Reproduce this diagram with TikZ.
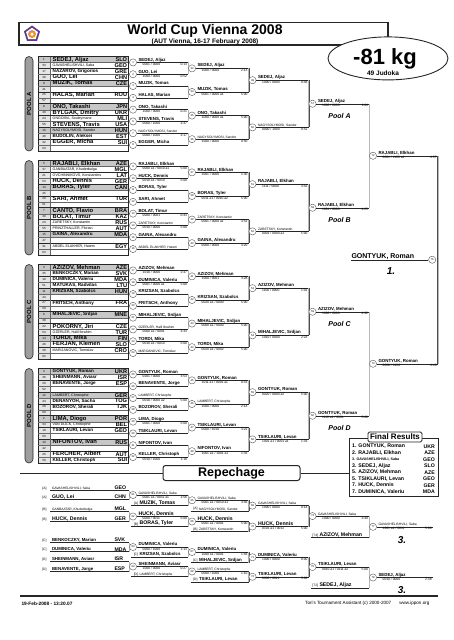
\documentclass[tikz,border=0pt]{standalone}
\usepackage{fontspec}
\setmainfont{Liberation Sans}
\usetikzlibrary{calc, shapes.geometric}

\def\titlebox{(19,22.7) rectangle (388,45)}
\def\resultsbox{(349,438.5) rectangle (438,496.5)}
\colorlet{line edge}{black!85}
\colorlet{link fill}{black!28}
\colorlet{seed row}{black!22}
\colorlet{seed cell}{black!10}
\colorlet{pool fill}{black!38}
\definecolor{logo violet}{RGB}{92,60,140}
\definecolor{logo orange}{RGB}{232,146,58}

\newcommand\fsz[1]{\fontsize{#1}{#1}\selectfont}
\newcommand\efb{\fsz{5.8}\bfseries}
\newcommand\efm{\fsz{4.6}\bfseries}
\newcommand\efs{\fsz{3.6}}
\newcommand\wfB{\fsz{5.2}\bfseries}
\newcommand\wfb{\fsz{4.4}\bfseries}
\newcommand\wfs{\fsz{3.3}}
\newcommand\rfb{\fsz{5.2}\bfseries}
\newcommand\rfs{\fsz{3.6}\bfseries}

\tikzset{
  fightnode/.style={circle, draw=black!65, fill=white, line width=0.4pt,
    minimum size=7.2pt, inner sep=0pt, font=\fsz{2.7}},
  pairbox/.style={draw=line edge, line width=0.7pt, minimum width=90pt,
    minimum height=11.8pt, inner sep=0pt},
  thinline/.style={draw=black!60, line width=0.3pt},
  winline/.style={draw=line edge, line width=0.45pt},
  vlink/.style={draw=black!70, line width=0.3pt, double=link fill, double distance=1pt},
  seednum/.style={inner sep=0pt, font=\fsz{3}},
  entry/.style={inner sep=0pt, anchor=west},
  country/.style={inner sep=0pt, anchor=east, font=\fsz{5.6}\bfseries},
  wname/.style={inner sep=0.3pt, anchor=south west},
  wscore/.style={inner sep=0.2pt, font=\fsz{3.3}},
  poolbar/.style={draw=line edge, fill=pool fill, rounded corners=4pt, rotate=90,
    minimum height=8pt, inner sep=0pt, line width=0.6pt, font=\fsz{6}\bfseries},
  poolname/.style={font=\fsz{7}\bfseries\itshape},
  tag/.style={inner sep=0.3pt, anchor=south east, font=\fsz{3.3}},
  rank/.style={font=\fsz{10}\bfseries\itshape}
}

% one pool: letter, y of first row, first fight, entries
\newcommand\poolblock[4]{%
  \foreach \k in {0,...,15}
    \fill[seed cell] (38,#2+5.9*\k-2.95) rectangle (50,#2+5.9*\k+2.95);
  \foreach \k in {0,4,8,12}
    \fill[seed row] (38,#2+5.9*\k-2.95) rectangle (128,#2+5.9*\k+2.95);
  \node[poolbar, minimum width=94.5pt] (bar#1) at (29,#2+44.25) {POOL #1};
  \foreach \k in {0,...,7} {
    \pgfmathtruncatemacro\fn{#3+\k}
    \node[pairbox] (box#1\k) at (83,#2+11.8*\k+2.95) {};
    \draw[thinline] (box#1\k.west) -- (box#1\k.east);
    \draw[thinline] (50,#2+11.8*\k-2.95) -- (50,#2+11.8*\k+8.85);
    \node[fightnode] (f\fn) at (133,#2+11.8*\k+2.95) {\fn};
    \draw[winline] (box#1\k) -- (f\fn);
  }
  \foreach \sd/\nm/\cc/\sz [count=\i from 0] in {#4} {
    \node[seednum] (s#1\i) at (44,#2+5.9*\i) {\sd};
    \node[entry, font=\csname ef\sz\endcsname] (n#1\i) at (52.5,#2+5.9*\i) {\nm};
    \node[country] (c#1\i) at (127.3,#2+5.9*\i) {\cc};
  }
}

% winner of a fight: fight, column, name, font, score, time
\newcommand\win[6]{%
  \coordinate (w#1) at (f#1 -| v#2);
  \draw[winline] (f#1) -- (w#1);
  \node[wname, font=\csname wf#4\endcsname] (n#1) at ([xshift=1.2pt]f#1.east) {#3};
  \node[wscore, anchor=north west] (s#1) at ([xshift=5.5pt,yshift=-0.4pt]f#1.east) {#5};
  \node[wscore, anchor=north east] (t#1) at ([xshift=-1pt,yshift=-0.4pt]w#1) {#6};
}

\newcommand\joinfightas[4]{%
  \draw[vlink] (w#3) -- (w#4);
  \node[fightnode] (f#1) at ($(w#3)!0.5!(w#4)+(3.6,0)$) {#2};
}
\newcommand\joinfight[3]{\joinfightas{#1}{#1}{#2}{#3}}

\newcommand\repentry[6]{%
  \coordinate (w#1) at (v0 |- 0,#2);
  \draw[winline] (50,#2) -- (w#1);
  \node[tag] (tg#1) at (47,#2) {[#3]};
  \node[wname, font=\csname wf#5\endcsname] (n#1) at (51.5,#2) {#4};
  \node[wname, font=\fsz{5.2}\bfseries] (c#1) at (114,#2) {#6};
}

\newcommand\latejoin[7]{%
  \coordinate (w#1) at (v#7 |- 0,#2);
  \draw[winline] (#6,#2) -- (w#1);
  \node[tag] (tg#1) at (#6+7.5,#2) {[#3]};
  \node[wname, font=\csname wf#5\endcsname] (n#1) at (#6+8,#2) {#4};
}

\begin{document}
\begin{tikzpicture}[x=1pt, y=-1pt]
  \useasboundingbox (0,0) rectangle (453,640);
  \fill[white] (0,0) rectangle (453,640);

  \draw[line width=1.1pt, draw=line edge] \titlebox;
  \node[font=\fsz{14}\bfseries] (title) at (205,31) {World Cup Vienna 2008};
  \node[font=\fsz{6.5}\bfseries] (subtitle) at (205,41.5) {(AUT Vienna, 16-17 February 2008)};
  \node[regular polygon, regular polygon sides=5, fill=logo violet, minimum size=17pt, inner sep=0pt] (logo) at (32,34) {};
  \node[regular polygon, regular polygon sides=5, fill=white, minimum size=12.5pt, inner sep=0pt] (logoin) at (logo) {};
  \node[circle, fill=logo orange, minimum size=8pt, inner sep=0pt] (logoring) at (logo) {};
  \node[circle, fill=white, minimum size=3.5pt, inner sep=0pt] (logodot) at (logo) {};
  \node[ellipse, draw=line edge, fill=white, line width=0.9pt, minimum width=120pt, minimum height=43pt] (weight) at (388,58.4) {};
  \node[anchor=base, font=\fsz{22}\bfseries] (wclass) at (385,64.8) {-81 kg};
  \node[anchor=base, font=\fsz{6.5}\bfseries] (judoka) at (383,75.4) {49 Judoka};

  \coordinate (v0) at (129.4,0);
  \coordinate (v1) at (188.4,0);
  \coordinate (v2) at (248.9,0);
  \coordinate (v3) at (308.9,0);
  \coordinate (v4) at (369.4,0);
  \coordinate (v5) at (438,0);
  \coordinate (v6) at (433,0);

  \poolblock{A}{59.5}{1}{1/{SEDEJ, Aljaz}/SLO/b, 33/{GAVASHELISHVILI, Saba}/GEO/s, 17/{NAZAROV, Grigorios}/GRE/m, 49/{GUO, Lei}/CHN/b, 9/{MUZIK, Tomas}/CZE/b, 41/{}/{}/b, 25/{HALAS, Marian}/ROU/b, 57/{}/{}/b, 8/{ONO, Takashi}/JPN/b, 40/{BYLGAK, Dmitry}/UKR/b, 24/{ONGOIBA, Souleymane}/MLI/s, 56/{STEVENS, Travis}/USA/b, 16/{NAGYSOLYMOSI, Sandor}/HUN/s, 48/{BUDOLIN, Aleksei}/EST/m, 32/{EGGER, Micha}/SUI/b, 64/{}/{}/b}
  \poolblock{B}{163.5}{9}{5/{RAJABLI, Elkhan}/AZE/b, 37/{GANBAATAR, Khuderbulga}/MGL/s, 21/{OVCHINNIKOVS, Konstantins}/LAT/s, 53/{HUCK, Dennis}/GER/b, 13/{BORAS, Tyler}/CAN/b, 45/{}/{}/b, 29/{SARI, Ahmet}/TUR/b, 61/{}/{}/b, 7/{CANTO, Flavio}/BRA/b, 39/{BOLAT, Timur}/KAZ/b, 23/{ZARETSKY, Konstantin}/RUS/s, 55/{PRINZTHALLER, Florian}/AUT/s, 15/{GAINA, Alexandru}/MDA/m, 47/{}/{}/b, 31/{ABDEL ELAKHER, Hatem}/EGY/s, 63/{}/{}/b}
  \poolblock{C}{267.5}{17}{3/{AZIZOV, Mehman}/AZE/b, 35/{BENKOCZKY, Marian}/SVK/m, 19/{DUMINICA, Valeriu}/MDA/m, 51/{MATUKAS, Radvilas}/LTU/m, 11/{KRIZSAN, Szabolcs}/HUN/m, 43/{}/{}/b, 27/{FRITSCH, Anthony}/FRA/m, 59/{}/{}/b, 6/{MIHALJEVIC, Srdjan}/MNE/m, 38/{}/{}/b, 22/{POKORNY, Jiri}/CZE/b, 54/{OZERLER, Halil Ibrahim}/TUR/s, 14/{TORDI, Mika}/FIN/b, 46/{FERJAN, Klemen}/SLO/b, 30/{MARIJANOVIC, Tomislav}/CRO/s, 62/{}/{}/b}
  \poolblock{D}{371.5}{25}{4/{GONTYUK, Roman}/UKR/m, 36/{SHEINMANN, Aviasr}/ISR/m, 20/{BENAVENTE, Jorge}/ESP/m, 52/{}/{}/b, 12/{LAMBERT, Christophe}/GER/s, 44/{DENANYOH, Sacha}/TOG/m, 28/{BOZOROV, Sherali}/TJK/m, 60/{}/{}/b, 2/{LIMA, Diogo}/POR/b, 34/{VAN DIJCK, Christophe}/BEL/s, 18/{TSIKLAURI, Levan}/GEO/m, 50/{}/{}/b, 10/{NIFONTOV, Ivan}/RUS/b, 42/{}/{}/b, 26/{FERCHER, Albert}/AUT/b, 58/{KELLER, Christoph}/SUI/m}

  \win{1}{1}{SEDEJ, Aljaz}{b}{0001 / 0000}{0:13}
  \win{2}{1}{GUO, Lei}{b}{1000 / 0000}{0:52}
  \win{3}{1}{MUZIK, Tomas}{b}{}{}
  \win{4}{1}{HALAS, Marian}{b}{}{}
  \win{5}{1}{ONO, Takashi}{b}{1000 / 0000}{0:21}
  \win{6}{1}{STEVENS, Travis}{b}{0000 / 1000}{2:37}
  \win{7}{1}{NAGYSOLYMOSI, Sandor}{s}{0000 / 1000}{2:17}
  \win{8}{1}{EGGER, Micha}{b}{}{}
  \joinfight{33}{1}{2} \win{33}{2}{SEDEJ, Aljaz}{b}{1000 / 0000}{2:13}
  \joinfight{34}{3}{4} \win{34}{2}{MUZIK, Tomas}{b}{0001 / 0000 a1}{5:00}
  \joinfight{35}{5}{6} \win{35}{2}{ONO, Takashi}{b}{1000 / 0000 a1}{5:00}
  \joinfight{36}{7}{8} \win{36}{2}{NAGYSOLYMOSI, Sandor}{s}{1000 / 0000}{0:50}
  \joinfight{49}{33}{34} \win{49}{3}{SEDEJ, Aljaz}{b}{1000 / 0000}{0:48}
  \joinfight{50}{35}{36} \win{50}{3}{NAGYSOLYMOSI, Sandor}{s}{0000 / 1000}{0:52}
  \joinfight{57}{49}{50} \win{57}{4}{SEDEJ, Aljaz}{b}{1000 / 0000}{1:04}
  \node[poolname] (lblA) at (339.5,115.5) {Pool A};

  \win{9}{1}{RAJABLI, Elkhan}{b}{0000 a1 / 0010 a1}{5:00}
  \win{10}{1}{HUCK, Dennis}{b}{0010 a1 / 0010}{5:00}
  \win{11}{1}{BORAS, Tyler}{b}{}{}
  \win{12}{1}{SARI, Ahmet}{b}{}{}
  \win{13}{1}{BOLAT, Timur}{b}{0000 / 0001}{0:43}
  \win{14}{1}{ZARETSKY, Konstantin}{s}{0010 / 0000}{5:00}
  \win{15}{1}{GAINA, Alexandru}{b}{}{}
  \win{16}{1}{ABDEL ELAKHER, Hatem}{s}{}{}
  \joinfight{37}{9}{10} \win{37}{2}{RAJABLI, Elkhan}{b}{1001 / 0000}{1:30}
  \joinfight{38}{11}{12} \win{38}{2}{BORAS, Tyler}{b}{0011 a1 / 0010 a2}{5:00}
  \joinfight{39}{13}{14} \win{39}{2}{ZARETSKY, Konstantin}{s}{0001 / 0000 a1}{3:52}
  \joinfight{40}{15}{16} \win{40}{2}{GAINA, Alexandru}{b}{0000 / 0000}{3:20}
  \joinfight{51}{37}{38} \win{51}{3}{RAJABLI, Elkhan}{b}{1111 / 0000}{3:42}
  \joinfight{52}{39}{40} \win{52}{3}{ZARETSKY, Konstantin}{s}{0001 / 0000 a1}{5:00}
  \joinfight{58}{51}{52} \win{58}{4}{RAJABLI, Elkhan}{b}{1001 / 0000}{4:25}
  \node[poolname] (lblB) at (339.5,219.5) {Pool B};

  \win{17}{1}{AZIZOV, Mehman}{b}{1010 / 0000}{2:47}
  \win{18}{1}{DUMINICA, Valeriu}{b}{0001 / 0000 a1}{5:00}
  \win{19}{1}{KRIZSAN, Szabolcs}{b}{}{}
  \win{20}{1}{FRITSCH, Anthony}{b}{}{}
  \win{21}{1}{MIHALJEVIC, Srdjan}{b}{}{}
  \win{22}{1}{OZERLER, Halil Ibrahim}{s}{0000 a1 / 0001}{3:33}
  \win{23}{1}{TORDI, Mika}{b}{0010 a1 / 0010}{5:00}
  \win{24}{1}{MARIJANOVIC, Tomislav}{s}{}{}
  \joinfight{41}{17}{18} \win{41}{2}{AZIZOV, Mehman}{b}{1000 / 0001}{3:28}
  \joinfight{42}{19}{20} \win{42}{2}{KRIZSAN, Szabolcs}{b}{0020 a1 / 0000}{5:00}
  \joinfight{43}{21}{22} \win{43}{2}{MIHALJEVIC, Srdjan}{b}{0000 a1 / 0000}{5:00}
  \joinfight{44}{23}{24} \win{44}{2}{TORDI, Mika}{b}{0020 a1 / 0002}{5:00}
  \joinfight{53}{41}{42} \win{53}{3}{AZIZOV, Mehman}{b}{1100 / 0000}{1:01}
  \joinfight{54}{43}{44} \win{54}{3}{MIHALJEVIC, Srdjan}{b}{1010 / 0000}{2:23}
  \joinfight{59}{53}{54} \win{59}{4}{AZIZOV, Mehman}{b}{1000 / 0000}{4:32}
  \node[poolname] (lblC) at (339.5,323.5) {Pool C};

  \win{25}{1}{GONTYUK, Roman}{b}{0201 / 0000}{3:53}
  \win{26}{1}{BENAVENTE, Jorge}{b}{}{}
  \win{27}{1}{LAMBERT, Christophe}{s}{0010 / 0000 a2}{5:00}
  \win{28}{1}{BOZOROV, Sherali}{b}{}{}
  \win{29}{1}{LIMA, Diogo}{b}{0001 / 0000}{5:00}
  \win{30}{1}{TSIKLAURI, Levan}{b}{}{}
  \win{31}{1}{NIFONTOV, Ivan}{b}{}{}
  \win{32}{1}{KELLER, Christoph}{b}{0010 / 1000}{1:18}
  \joinfight{45}{25}{26} \win{45}{2}{GONTYUK, Roman}{b}{1011 a1 / 0001 a1}{0:53}
  \joinfight{46}{27}{28} \win{46}{2}{LAMBERT, Christophe}{s}{1000 / 0000}{2:14}
  \joinfight{47}{29}{30} \win{47}{2}{TSIKLAURI, Levan}{b}{0000 / 1010}{3:22}
  \joinfight{48}{31}{32} \win{48}{2}{NIFONTOV, Ivan}{b}{1001 a1 / 1001 a1}{1:33}
  \joinfight{55}{45}{46} \win{55}{3}{GONTYUK, Roman}{b}{0020 / 0000 a2}{5:00}
  \joinfight{56}{47}{48} \win{56}{3}{TSIKLAURI, Levan}{b}{1001 a1 / 0001 a1}{1:33}
  \joinfight{60}{55}{56} \win{60}{4}{GONTYUK, Roman}{b}{1110 a1 / 0001}{5:00}
  \node[poolname] (lblD) at (339.5,427.5) {Pool D};

  \joinfight{72}{57}{58} \win{72}{5}{RAJABLI, Elkhan}{b}{0001 / 1100 a1}{4:57}
  \joinfight{74}{59}{60} \win{74}{5}{GONTYUK, Roman}{b}{0000 / 0100}{4:40}
  \draw[vlink] (w72) -- (w74);
  \node[fightnode] (f76) at ($(w72)!0.5!(w74)+(-5.8,0)$) {76};
  \coordinate (champ) at (f76 -| 351,0);
  \draw[winline] (f76) -- (champ);
  \node[wname, font=\fsz{7}\bfseries] (n76) at (champ) {GONTYUK, Roman};
  \node[rank] (first) at (391,271) {1.};

  \draw[line width=1pt, draw=line edge] \resultsbox;
  \node[draw=line edge, fill=white, line width=0.8pt, rounded corners=1.5pt, minimum width=54pt,
    minimum height=10pt, inner sep=0pt, font=\fsz{8}\bfseries] (reshead) at (395,437) {Final Results};
  \foreach \rk/\nm/\cc/\sz [count=\i from 0] in {1/{GONTYUK, Roman}/UKR/b, 2/{RAJABLI, Elkhan}/AZE/b, 3/{GAVASHELISHVILI, Saba}/GEO/s, 3/{SEDEJ, Aljaz}/SLO/b, 5/{AZIZOV, Mehman}/AZE/b, 5/{TSIKLAURI, Levan}/GEO/b, 7/{HUCK, Dennis}/GER/b, 7/{DUMINICA, Valeriu}/MDA/b} {
    \node[entry, font=\csname rf\sz\endcsname] (rn\i) at (352,446.5+6.5*\i) {\rk. \nm};
    \node[country, font=\fsz{5.2}\bfseries] (rc\i) at (435,446.5+6.5*\i) {\cc};
  }

  \node[draw=line edge, line width=1pt, rounded corners=2.5pt, minimum width=137pt, minimum height=15pt,
    inner sep=0pt, font=\fsz{12.5}\bfseries] (rephead) at (231.5,473) {Repechage};
  \coordinate (repleft) at (20,473);
  \coordinate (resleft) at (349,473);
  \draw[line width=1pt, draw=line edge] (repleft) -- (rephead.west);
  \draw[line width=1pt, draw=line edge] (rephead.east) -- (resleft);

  \repentry{ra1}{490.5}{A}{GAVASHELISHVILI, Saba}{s}{GEO}
  \repentry{ra2}{499.5}{A}{GUO, Lei}{B}{CHN}
  \joinfight{61}{ra1}{ra2}
  \win{61}{1}{GAVASHELISHVILI, Saba}{s}{0001 a1 / 0011 a1}{1:56}
  \latejoin{ra3}{505.5}{A}{MUZIK, Tomas}{B}{131}{1}
  \joinfight{65}{61}{ra3}
  \win{65}{2}{GAVASHELISHVILI, Saba}{s}{0001 a1 / 0010 a1}{3:56}
  \latejoin{ra4}{511}{A}{NAGYSOLYMOSI, Sandor}{s}{190.5}{2}
  \joinfight{69}{65}{ra4}
  \win{69}{3}{GAVASHELISHVILI, Saba}{s}{1000 / 0000}{0:14}

  \repentry{rb1}{511.5}{B}{GANBAATAR, Khuderbulga}{s}{MGL}
  \repentry{rb2}{521.5}{B}{HUCK, Dennis}{B}{GER}
  \joinfight{62}{rb1}{rb2}
  \win{62}{1}{HUCK, Dennis}{B}{0000 / 0011}{5:00}
  \latejoin{rb3}{526.5}{B}{BORAS, Tyler}{B}{131}{1}
  \joinfight{66}{62}{rb3}
  \win{66}{2}{HUCK, Dennis}{B}{0001 a1 / 0001}{5:00}
  \latejoin{rb4}{531.5}{B}{ZARETSKY, Konstantin}{s}{190.5}{2}
  \joinfight{70}{66}{rb4}
  \win{70}{3}{HUCK, Dennis}{B}{0101 a1 / 0012}{5:00}
  \joinfight{73}{69}{70}
  \win{73}{4}{GAVASHELISHVILI, Saba}{s}{1000 / 0000}{2:49}
  \latejoin{rb5}{537.5}{74}{AZIZOV, Mehman}{B}{311}{4}
  \joinfight{77}{73}{rb5}
  \win{77}{6}{GAVASHELISHVILI, Saba}{s}{1001 a1 / 0011}{5:00}
  \node[rank] (third1) at (402,540) {3.};

  \repentry{rc1}{542.5}{C}{BENKOCZKY, Marian}{b}{SVK}
  \repentry{rc2}{551.5}{C}{DUMINICA, Valeriu}{b}{MDA}
  \joinfight{63}{rc1}{rc2}
  \win{63}{1}{DUMINICA, Valeriu}{b}{0000 / 1000}{1:13}
  \latejoin{rc3}{557}{C}{KRIZSAN, Szabolcs}{b}{131}{1}
  \joinfight{67}{63}{rc3}
  \win{67}{2}{DUMINICA, Valeriu}{b}{1000 a1 / 0001}{1:56}
  \latejoin{rc4}{562.5}{C}{MIHALJEVIC, Srdjan}{b}{190.5}{2}
  \joinfight{71}{67}{rc4}
  \win{71}{3}{DUMINICA, Valeriu}{b}{1000 / 0000}{0:00}

  \repentry{rd1}{561.5}{D}{SHEINMANN, Aviasr}{b}{ISR}
  \repentry{rd2}{571.5}{D}{BENAVENTE, Jorge}{b}{ESP}
  \joinfight{64}{rd1}{rd2}
  \win{64}{1}{SHEINMANN, Aviasr}{b}{1000 / 0000}{0:27}
  \latejoin{rd3}{576.5}{D}{LAMBERT, Christophe}{s}{131}{1}
  \joinfight{68}{64}{rd3}
  \win{68}{2}{LAMBERT, Christophe}{s}{0000 / 1000}{1:10}
  \latejoin{rd4}{582}{D}{TSIKLAURI, Levan}{b}{190.5}{2}
  \joinfightas{72r}{72}{68}{rd4}
  \win{72r}{3}{TSIKLAURI, Levan}{b}{0000 / 0011}{5:00}
  \joinfight{75}{71}{72r}
  \win{75}{4}{TSIKLAURI, Levan}{b}{0010 a1 / 0111 a2}{5:00}
  \latejoin{rd5}{588}{72}{SEDEJ, Aljaz}{B}{311}{4}
  \joinfight{78}{75}{rd5}
  \win{78}{6}{SEDEJ, Aljaz}{b}{0010 / 0000}{2:38}
  \node[rank] (third2) at (402,590) {3.};

  \coordinate (footl) at (20,596);
  \coordinate (footr) at (438,596);
  \draw[line width=1.3pt, draw=line edge] (footl) -- (footr);
  \node[anchor=west, font=\fsz{4.8}\bfseries] (date) at (18,603.5) {19-Feb-2008 - 13:20.07};
  \node[anchor=east, font=\fsz{4.6}] (credit) at (433,603.5) {Tori's Tournament Assistant (c) 2000-2007\hspace{8pt}www.ippon.org};
\end{tikzpicture}
\end{document}
